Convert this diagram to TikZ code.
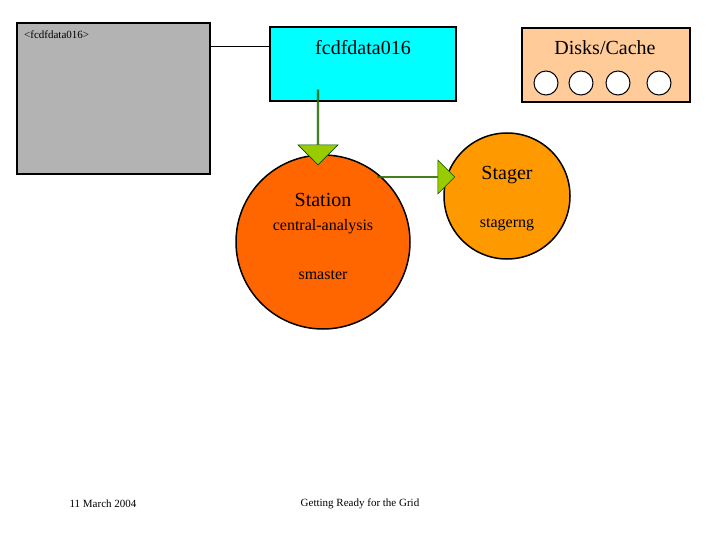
\documentclass[tikz,border=0pt]{standalone}
\usepackage{fontspec}
\setmainfont{Liberation Serif}
\usetikzlibrary{shapes.arrows}
\definecolor{grayf}{HTML}{B3B3B3}
\definecolor{cyanf}{HTML}{00FFFF}
\definecolor{peach}{HTML}{FFCC99}
\definecolor{stat}{HTML}{FF6600}
\definecolor{stag}{HTML}{FF9900}
\definecolor{arr}{HTML}{99CC00}
\begin{document}
\begin{tikzpicture}[x=1pt,y=-1pt,
  box/.style={draw=black,line width=1.5pt},
  disk/.style={circle,draw=black,line width=1pt,fill=white,minimum size=24pt,inner sep=0pt},
  garrow/.style={single arrow,draw=black!70!green,fill=arr,line width=0.6pt,minimum width=40pt,single arrow head extend=8pt,single arrow head indent=0pt,inner sep=0pt},
  lbl/.style={font=\fontsize{20}{22}\selectfont},
  sm/.style={font=\fontsize{16}{18}\selectfont},
  ft/.style={font=\fontsize{11}{13}\selectfont}]
\useasboundingbox (0,0) rectangle (720,540);
\node[box,fill=grayf,minimum width=193pt,minimum height=151pt,inner sep=0pt] (gray) at (113.5,98.5) {};
\node[anchor=north west,font=\fontsize{11}{13}\selectfont,inner sep=0pt] (gl) at (24,31) {<fcdfdata016>};
\node[box,fill=cyanf,minimum width=186pt,minimum height=74pt,inner sep=0pt] (cy) at (363,64) {};
\node[lbl] (cyl) at (363,48) {fcdfdata016};
\draw[line width=1pt] (gray.east |- 0,47) -- (cy.west |- 0,47);
\node[box,fill=peach,minimum width=168pt,minimum height=74pt,inner sep=0pt] (dc) at (606,65) {};
\node[lbl] (dcl) at (605,48) {Disks/Cache};
\node[disk] (d1) at (546,83) {};
\node[disk] (d2) at (581,83) {};
\node[disk] (d3) at (618,83) {};
\node[disk] (d4) at (659,83) {};
\node[circle,draw=black,line width=1.5pt,fill=stat,minimum size=174pt,inner sep=0pt] (st) at (323,242) {};
\node[lbl] (stl) at (323,200) {Station};
\node[sm] (stc) at (323,227) {central-analysis};
\node[sm] (sts) at (323,275) {smaster};
\node[circle,draw=black,line width=1.5pt,fill=stag,minimum size=126pt,inner sep=0pt] (sg) at (507,196) {};
\node[lbl] (sgl) at (507,175) {Stager};
\node[sm] (sgs) at (507,225) {stagerng};
\node[garrow,shape border rotate=270,minimum height=75pt] (a1) at (318,127) {};
\node[garrow,minimum height=77pt,minimum width=34pt] (a2) at (416,177) {};
\node[ft] (f1) at (103,504) {11 March 2004};
\node[ft] (f2) at (360,504) {Getting Ready for the Grid};
\end{tikzpicture}
\end{document}
